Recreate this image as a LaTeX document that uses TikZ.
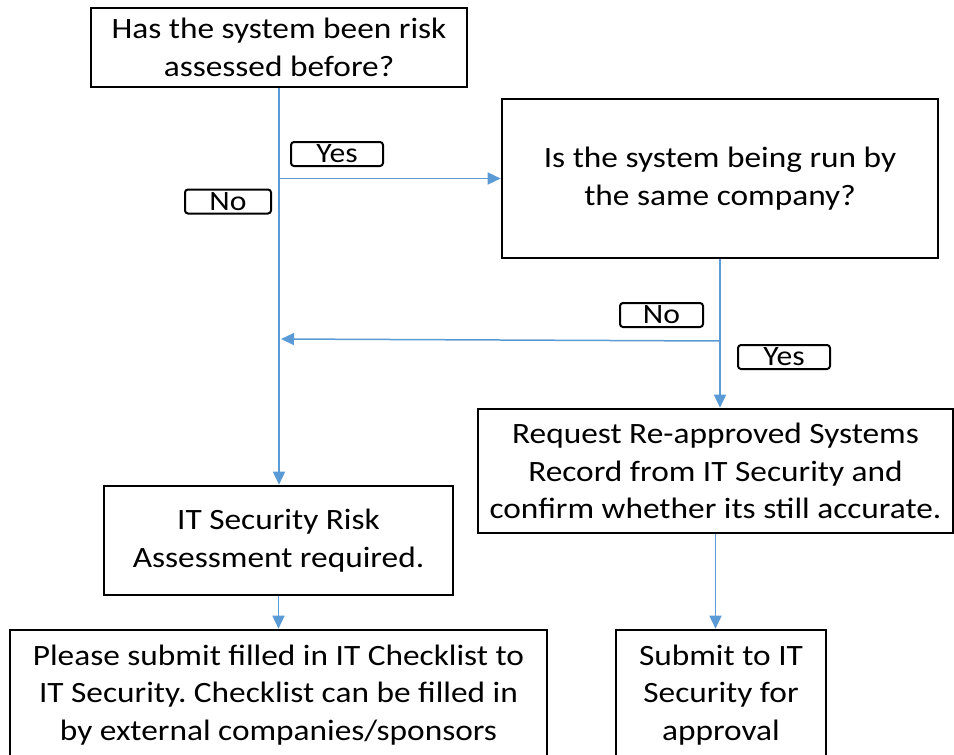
\documentclass[tikz,border=0pt]{standalone}
\usepackage{fontspec}
\setmainfont{Carlito}[FakeStretch=1.13]
\usepackage{xcolor}
\usetikzlibrary{calc,arrows.meta,positioning}
\definecolor{flowblue}{HTML}{5B9BD5}
\frenchspacing
\tikzset{
  ar/.style={-{Triangle[length=13pt,width=12pt]},line width=1.5pt,flowblue},
  box/.style={draw=black,line width=2.6pt,fill=white,align=center,inner sep=2pt,
    font=\fontsize{29.5}{37.5}\selectfont},
  lbl/.style={draw=black,line width=2pt,rounded corners=3pt,inner sep=0pt,
    minimum height=24pt,font=\fontsize{28}{30}\selectfont}
}
\begin{document}
\begin{tikzpicture}[x=1pt,y=-1pt]
\useasboundingbox (0,0) rectangle (954,755);
\clip (0,0) rectangle (954,755);
% boxes
\node[box,minimum width=376pt,minimum height=79pt] (q1) at (279,47.5) {Has the system been risk\\assessed before?};
\node[box,minimum width=436pt,minimum height=159pt] (q2) at (720,178.5) {Is the system being run by\\the same company?};
\node[box,minimum width=475pt,minimum height=124pt] (req) at (715.5,471) {Request Re-approved Systems\\Record from IT Security and\\confirm whether its still accurate.};
\node[box,minimum width=349pt,minimum height=109pt] (risk) at (278.5,540.5) {IT Security Risk\\Assessment required.};
\node[box,minimum width=537pt,minimum height=130pt] (chk) at (278.5,695) {Please submit filled in IT Checklist to\\IT Security. Checklist can be filled in\\by external companies/sponsors};
\node[box,minimum width=210pt,minimum height=130pt] (sub) at (721,695) {Submit to IT\\Security for\\approval};
% connectors
\coordinate (j1) at (q1.south |- q2.west);
\coordinate (j2) at (q2.south |- 0,341);
\coordinate (j3) at ($(q1.south |- j2)+(2,-2)$);
\draw[ar] (q1.south) -- (q1.south |- risk.north);
\draw[ar] (j1) -- (q2.west);
\draw[ar] (q2.south) -- (q2.south |- req.north);
\draw[ar] (j2) -- (j3);
\draw[ar] (risk.south) -- (risk.south |- chk.north);
\draw[ar] (req.south) -- (req.south |- sub.north);
% labels
\node[lbl,minimum width=92pt] (y1) at (337,154) {Yes};
\node[lbl,minimum width=86pt] (n1) at (228,201.5) {No};
\node[lbl,minimum width=83pt] (n2) at (661.5,315) {No};
\node[lbl,minimum width=92pt] (y2) at (784,357) {Yes};
\end{tikzpicture}
\end{document}
